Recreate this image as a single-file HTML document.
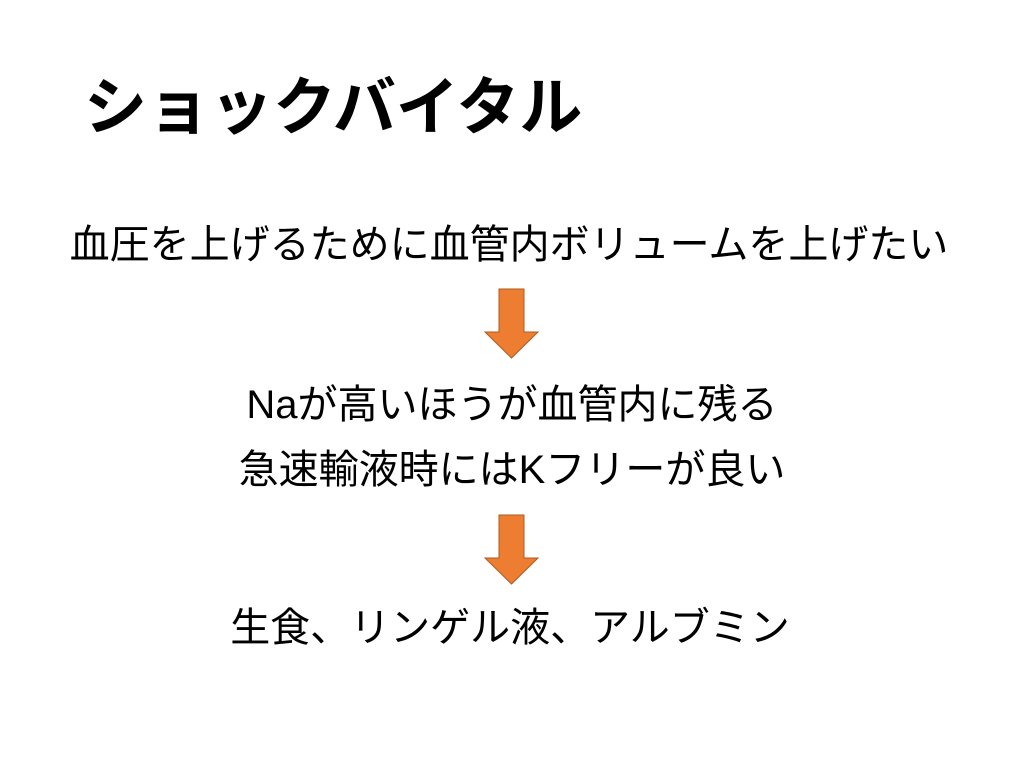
<!DOCTYPE html>
<html><head><meta charset="utf-8"><style>
body{margin:0;width:1024px;height:768px;background:#fff;position:relative;overflow:hidden;font-family:"Liberation Sans","Noto Sans CJK JP",sans-serif;color:#000}
.t{position:absolute;left:84px;top:68px;font-size:63px;font-weight:bold;white-space:nowrap;line-height:80px}
.l{position:absolute;left:0;width:1024px;text-align:center;font-size:40px;line-height:50px;white-space:nowrap}
svg{position:absolute;left:0;top:0}
</style></head><body>
<div class="t">ショックバイタル</div>
<div class="l" style="top:220px;left:-3px">血圧を上げるために血管内ボリュームを上げたい</div>
<div class="l" style="top:380px">Naが高いほうが血管内に残る</div>
<div class="l" style="top:445px">急速輸液時にはKフリーが良い</div>
<div class="l" style="top:603px;left:-2px">生食、リンゲル液、アルブミン</div>
<svg width="1024" height="768">
<polygon points="499,289 524,289 524,332 538,332 511.5,358 485,332 499,332" fill="#ed7d31" stroke="#ae5a21" stroke-width="1"/>
<polygon points="499,515 524,515 524,558 538,558 511.5,584 485,558 499,558" fill="#ed7d31" stroke="#ae5a21" stroke-width="1"/>
</svg>
</body></html>
